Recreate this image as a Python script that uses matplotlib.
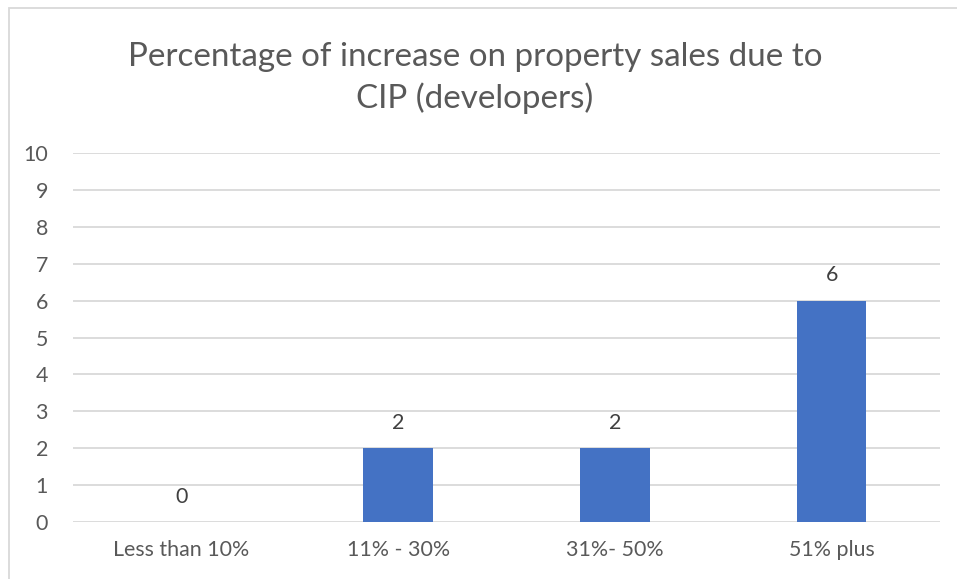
import matplotlib.pyplot as plt
from matplotlib.patches import Rectangle

CATEGORIES = ['Less than 10%', '11% - 30%', '31%- 50%', '51% plus']
COUNTS = [0, 2, 2, 6]
Y_TICKS = list(range(0, 11))

TEXT_GRAY = '#595959'
GRID_GRAY = '#D9D9D9'
BAR_BLUE = '#4472C4'

plt.rcParams['font.family'] = ['Lato', 'DejaVu Sans']

W, H = 957, 579
fig = plt.figure(figsize=(W / 100, H / 100), dpi=100)

# chart frame (runs off the right and bottom edges)
fig.patches.append(Rectangle((9 / W, -0.1), 1.2, 1 - 8 / H + 0.1,
                             transform=fig.transFigure, fill=False,
                             edgecolor=GRID_GRAY, linewidth=1.3))

ax = fig.add_axes([73 / W, 1 - 522 / H, (940 - 73) / W, (522 - 153) / H])
x = list(range(len(CATEGORIES)))
ax.bar(x, COUNTS, width=0.32, color=BAR_BLUE, zorder=3)
for xi, v in zip(x, COUNTS):
    ax.text(xi, v + 0.42, str(v), ha='center', va='bottom',
            fontsize=15.4, color='#404040')

ax.set_xlim(-0.5, len(CATEGORIES) - 0.5)
ax.set_ylim(0, 10)
ax.set_yticks(Y_TICKS)
ax.set_xticks(x)
ax.set_xticklabels(CATEGORIES)
ax.tick_params(axis='both', length=0, labelsize=15.4, labelcolor=TEXT_GRAY)
ax.tick_params(axis='x', pad=13)
ax.tick_params(axis='y', pad=18)
for lbl in ax.get_yticklabels():
    lbl.set_horizontalalignment('right')
ax.grid(axis='y', color=GRID_GRAY, linewidth=1.3, zorder=0)
for s in ax.spines.values():
    s.set_visible(False)

fig.text(475 / W, 1 - 78 / H, 'Percentage of increase on property sales due to\nCIP (developers)',
         ha='center', va='center', fontsize=23.9, color=TEXT_GRAY, linespacing=1.4)

plt.savefig('out.png', dpi=100)
